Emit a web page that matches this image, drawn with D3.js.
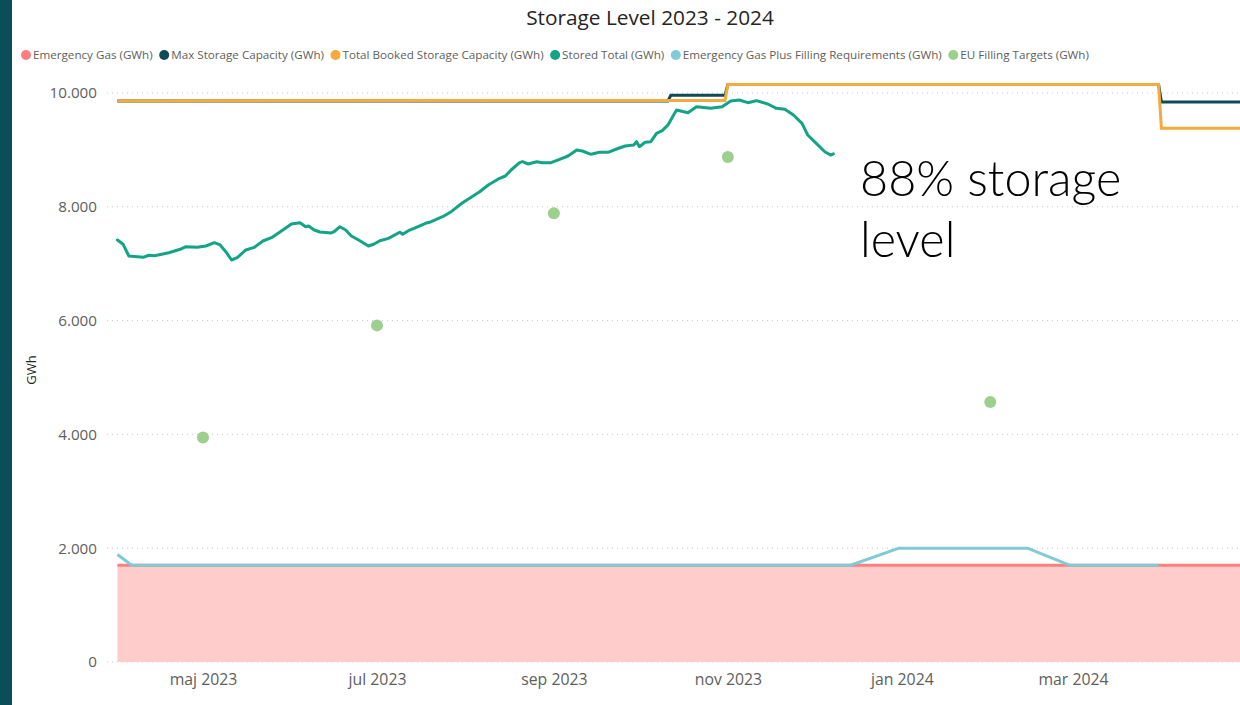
<!DOCTYPE html>
<html>
<head>
<meta charset="utf-8">
<script src="https://cdn.jsdelivr.net/npm/d3@7"></script>
<style>
  html, body { margin: 0; padding: 0; background: #ffffff; }
  svg { display: block; }
</style>
</head>
<body>
<svg id="chart" width="1240" height="705"></svg>
<script>
// ---- Series data (GWh) ----
const storedDates = ["2023-04-01","2023-04-03","2023-04-05","2023-04-10","2023-04-12","2023-04-14","2023-04-19","2023-04-23","2023-04-25","2023-04-29",
  "2023-05-02","2023-05-05","2023-05-07","2023-05-09","2023-05-11","2023-05-13","2023-05-16","2023-05-19","2023-05-22","2023-05-25","2023-05-29",
  "2023-06-01","2023-06-04","2023-06-06","2023-06-07","2023-06-09","2023-06-11","2023-06-15","2023-06-16","2023-06-18","2023-06-20","2023-06-22","2023-06-25","2023-06-28","2023-06-30",
  "2023-07-02","2023-07-05","2023-07-09","2023-07-10","2023-07-12","2023-07-14","2023-07-18","2023-07-20","2023-07-24","2023-07-27","2023-07-31",
  "2023-08-06","2023-08-09","2023-08-13","2023-08-15","2023-08-17","2023-08-20","2023-08-21","2023-08-23","2023-08-26","2023-08-28","2023-08-31",
  "2023-09-03","2023-09-06","2023-09-09","2023-09-11","2023-09-14","2023-09-17","2023-09-20","2023-09-23","2023-09-26","2023-09-29","2023-09-30",
  "2023-10-01","2023-10-03","2023-10-05","2023-10-07","2023-10-09","2023-10-11","2023-10-14","2023-10-18","2023-10-21","2023-10-26","2023-10-30",
  "2023-11-02","2023-11-05","2023-11-08","2023-11-11","2023-11-15","2023-11-18","2023-11-21","2023-11-24","2023-11-27","2023-11-29",
  "2023-12-02","2023-12-05","2023-12-07","2023-12-08"];
const storedValues = [7417,7341,7135,7112,7148,7141,7193,7253,7299,7288,
  7311,7369,7329,7211,7065,7105,7241,7288,7399,7457,
  7592,7698,7721,7650,7663,7592,7557,7540,7562,7650,
  7592,7487,7404,7311,7346,7404,7446,7552,7517,7580,
  7622,7710,7738,7826,7914,8072,8265,8383,8501,8541,
  8647,8775,8793,8752,8793,8775,8775,8835,8893,8998,
  8981,8923,8958,8958,9016,9069,9086,9144,9056,9134,
  9144,9292,9338,9438,9701,9654,9759,9731,9759,9859,
  9877,9830,9865,9807,9731,9714,9613,9467,9262,9116,
  8968,8910,8932];

const maxCapDates = ["2023-04-01","2023-10-11","2023-10-12","2023-10-31","2023-11-01","2024-03-31","2024-04-01","2024-05-01"];
const maxCapValues = [9860,9860,9960,9960,10150,10150,9840,9840];

const bookedDates = ["2023-04-01","2023-10-31","2023-11-01","2024-03-31","2024-04-01","2024-05-01"];
const bookedValues = [9860,9870,10150,10150,9380,9380];

const emergencyDates = ["2023-04-01","2024-05-01"];
const emergencyValues = [1700,1700];

const fillingReqDates = ["2023-04-01","2023-04-06","2023-12-14","2023-12-31","2024-02-14","2024-02-29","2024-03-31"];
const fillingReqValues = [1890,1700,1700,2000,2000,1700,1700];

const euTargetDates = ["2023-05-01","2023-07-01","2023-09-01","2023-11-01","2024-02-01"];
const euTargetValues = [3944,5916,7888,8874,4568];

// ---- Axis ticks ----
const yTickValues = [0,2000,4000,6000,8000,10000];
const xTickDates = ["2023-05-01","2023-07-01","2023-09-01","2023-11-01","2024-01-01","2024-03-01"];
const xTickLabels = ["maj 2023","jul 2023","sep 2023","nov 2023","jan 2024","mar 2024"];

const legendLabels = ["Emergency Gas (GWh)","Max Storage Capacity (GWh)","Total Booked Storage Capacity (GWh)","Stored Total (GWh)","Emergency Gas Plus Filling Requirements (GWh)","EU Filling Targets (GWh)"];

// ---- Styling ----
const C = {
  emergencyLine: "#fd7f7f",
  emergencyFill: "#ffcccc",
  maxCap: "#0f4b55",
  booked: "#f4aa3d",
  stored: "#13a386",
  fillingReq: "#80cbd6",
  euTarget: "#9dcf8d",
  sidebar: "#0b4e59",
  grid: "#c8c8c8",
  axisText: "#605e5c"
};
const legendColors = [C.emergencyLine, C.maxCap, C.booked, C.stored, C.fillingReq, C.euTarget];

const parse = d3.utcParse("%Y-%m-%d");
const zip = (ds, vs) => ds.map((d, i) => ({ date: parse(d), value: vs[i] }));

const svg = d3.select("#chart");
const W = 1240, H = 705;

// Left accent bar
svg.append("rect").attr("x", 0).attr("y", 0).attr("width", 12).attr("height", H).attr("fill", C.sidebar);

// Scales
const x = d3.scaleUtc()
  .domain([parse("2023-05-01"), parse("2024-03-01")])
  .range([203, 1073]);
const y = d3.scaleLinear().domain([0, 10000]).range([662, 93]);
const plotLeft = 107, plotRight = W;

const thousands = d3.formatLocale({ decimal: ",", thousands: ".", grouping: [3], currency: ["", ""] }).format(",d");

// Gridlines
svg.append("g")
  .selectAll("line")
  .data(yTickValues)
  .join("line")
  .attr("x1", plotLeft).attr("x2", plotRight)
  .attr("y1", d => y(d)).attr("y2", d => y(d))
  .attr("stroke", C.grid)
  .attr("stroke-width", 1)
  .attr("stroke-dasharray", "1,4");

// Y axis labels
const yAxis = d3.axisLeft(y).tickValues(yTickValues).tickFormat(thousands).tickSize(0).tickPadding(0);
const yG = svg.append("g").attr("transform", `translate(97,0)`).call(yAxis);
yG.select(".domain").remove();
yG.selectAll("text")
  .attr("fill", C.axisText)
  .style("font-family", "'Segoe UI', 'Open Sans', sans-serif")
  .style("font-size", "15.2px");

// X axis labels
const xAxis = d3.axisBottom(x)
  .tickValues(xTickDates.map(parse))
  .tickFormat((d, i) => xTickLabels[i])
  .tickSize(0).tickPadding(0);
const xG = svg.append("g").attr("transform", `translate(0,674)`).call(xAxis);
xG.select(".domain").remove();
xG.selectAll("text")
  .attr("dy", "0.71em")
  .attr("fill", C.axisText)
  .style("font-family", "'Segoe UI', 'Open Sans', sans-serif")
  .style("font-size", "15.8px");

// Y axis title
svg.append("text")
  .attr("transform", "translate(36,370) rotate(-90)")
  .attr("text-anchor", "middle")
  .attr("fill", "#252423")
  .style("font-family", "'Segoe UI', 'Open Sans', sans-serif")
  .style("font-size", "13px")
  .text("GWh");

// Clip to the visible plot
svg.append("clipPath").attr("id", "plotClip")
  .append("rect").attr("x", plotLeft).attr("y", 0).attr("width", plotRight - plotLeft).attr("height", 700);
const plot = svg.append("g").attr("clip-path", "url(#plotClip)");

const line = d3.line().x(d => x(d.date)).y(d => y(d.value)).curve(d3.curveLinear);

// Emergency gas: filled area with its line
const emergency = zip(emergencyDates, emergencyValues);
plot.append("path")
  .datum(emergency)
  .attr("fill", C.emergencyFill)
  .attr("d", d3.area().x(d => x(d.date)).y0(y(0)).y1(d => y(d.value)));
plot.append("path").datum(emergency)
  .attr("fill", "none").attr("stroke", C.emergencyLine).attr("stroke-width", 3).attr("d", line);

// Capacity lines
plot.append("path").datum(zip(maxCapDates, maxCapValues))
  .attr("fill", "none").attr("stroke", C.maxCap).attr("stroke-width", 3).attr("d", line);
plot.append("path").datum(zip(bookedDates, bookedValues))
  .attr("fill", "none").attr("stroke", C.booked).attr("stroke-width", 3).attr("d", line);

// Stored total
plot.append("path").datum(zip(storedDates, storedValues))
  .attr("fill", "none").attr("stroke", C.stored).attr("stroke-width", 3)
  .attr("stroke-linejoin", "round").attr("stroke-linecap", "round").attr("d", line);

// Emergency gas plus filling requirements
plot.append("path").datum(zip(fillingReqDates, fillingReqValues))
  .attr("fill", "none").attr("stroke", C.fillingReq).attr("stroke-width", 3)
  .attr("stroke-linejoin", "round").attr("d", line);

// EU filling targets
plot.append("g").selectAll("circle")
  .data(zip(euTargetDates, euTargetValues))
  .join("circle")
  .attr("cx", d => x(d.date)).attr("cy", d => y(d.value))
  .attr("r", 6).attr("fill", C.euTarget);

// Title
svg.append("text")
  .attr("x", 650).attr("y", 25)
  .attr("text-anchor", "middle")
  .attr("fill", "#252423")
  .style("font-family", "'Segoe UI', 'Open Sans', sans-serif")
  .style("font-size", "20.8px")
  .text("Storage Level 2023 - 2024");

// Legend
const legend = svg.append("g").attr("transform", "translate(20,55)");
let lx = 6;
legendLabels.forEach((label, i) => {
  const g = legend.append("g").attr("transform", `translate(${lx},0)`);
  g.append("circle").attr("r", 5).attr("fill", legendColors[i]);
  const t = g.append("text")
    .attr("x", 7).attr("dy", "0.35em")
    .attr("fill", C.axisText)
    .style("font-family", "'Segoe UI', 'Open Sans', sans-serif")
    .style("font-size", "11.65px")
    .text(label);
  lx += 7 + t.node().getComputedTextLength() + 11.5;
});

// Annotation
const note = svg.append("text")
  .attr("fill", "#000000")
  .style("font-family", "Lato, 'Open Sans', sans-serif")
  .style("font-weight", 300)
  .style("font-size", "48.5px");
note.append("tspan").attr("x", 860).attr("y", 196).text("88% storage");
note.append("tspan").attr("x", 860).attr("y", 257).text("level");
</script>
</body>
</html>
